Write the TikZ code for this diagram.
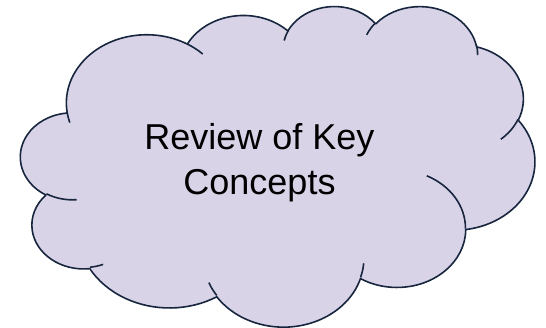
\documentclass[tikz,border=0pt]{standalone}
\usepackage{fontspec}
\setmainfont{Liberation Sans}
\definecolor{cloudfill}{RGB}{217,211,232}
\definecolor{cloudline}{RGB}{23,38,62}
\begin{document}
\begin{tikzpicture}
		[x=0.75pt,y=-0.75pt,
		puff/.style={fill=cloudfill,draw=cloudline,line width=1.2pt,line join=round},
		seam/.style={draw=cloudline,line width=1.2pt},
		caption/.style={align=center,inner sep=0pt,font=\fontsize{27}{33.5}\selectfont}]
	\useasboundingbox (0,0) rectangle (546,328);
	\begin{scope}[shift={(20.7,5.5)},x=8.924pt,y=-5.564pt,
		oarc/.style n args={4}{x radius=#1,y radius=#2,
			start angle={atan2(#1*sin(#3),#2*cos(#3))},
			delta angle={mod(atan2(#1*sin(#3+#4),#2*cos(#3+#4))-atan2(#1*sin(#3),#2*cos(#3))+720,360)}}]
		% outline of the puffs
		\path[puff] (3.900,14.370)
			foreach \rx/\ry/\st/\sw in {6.753/9.190/-190.48748/123.78053,
				5.333/7.267/-144.10238/89.94523, 4.365/5.945/-145.80792/99.72302,
				4.857/6.595/-130.98607/117.24173, 5.333/7.273/-78.70888/109.02692,
				6.775/9.220/-46.26725/130.269, 5.785/7.867/0.62502/114.03333,
				6.752/9.215/22.4516/115.17255, 7.720/10.543/66.24263/75.71102,
				4.360/5.918/-274.94208/146.73557, 4.345/5.945/-246.8285/152.51885}
			{arc[oarc={\rx}{\ry}{\st}{\sw}]} -- cycle;
		% inner seams
		\path[seam]
			foreach \px/\py/\rx/\ry/\st/\sw in {4.693/26.177/4.345/5.945/86.742/26.4295,
				6.928/34.899/4.360/5.918/73.61047/11.44747,
				16.478/39.090/6.752/9.215/137.62415/14.0811,
				28.827/34.751/6.752/9.215/6.45327/15.99835,
				34.129/22.954/5.785/7.867/-70.29235/70.91737,
				41.798/15.354/5.333/7.273/30.31803/27.7515,
				38.324/5.426/4.857/6.595/-13.74433/14.8589,
				29.078/3.952/4.857/6.595/-149.18145/18.19537,
				22.141/4.720/4.365/5.945/-163.49427/17.68635,
				14.000/5.192/6.753/9.190/-66.70695/12.31935,
				4.127/15.789/6.753/9.190/157.65435/11.85817}
			{(\px,\py) arc[oarc={\rx}{\ry}{\st}{\sw}]};
	\end{scope}
	\node[caption] (title) at (259.5,162.5) {Review of Key\\Concepts};
\end{tikzpicture}
\end{document}
